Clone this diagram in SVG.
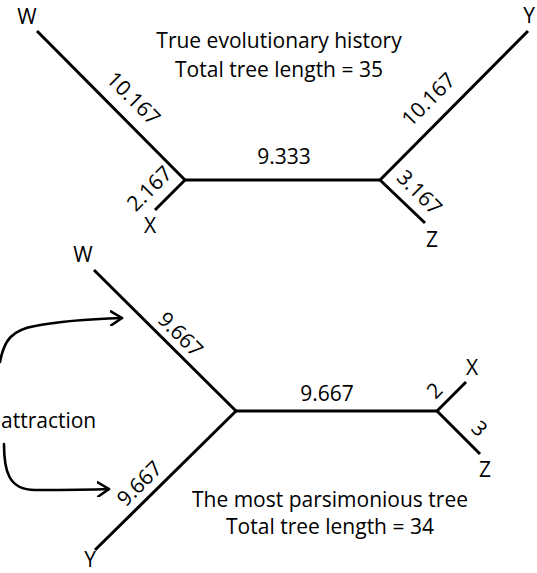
<svg xmlns="http://www.w3.org/2000/svg" width="537" height="573" viewBox="0 0 537 573">
<defs>
<style>
.t{font-family:"Open Sans","Liberation Sans",sans-serif;font-size:21px;fill:#000}
.c{text-anchor:middle}
.m{text-anchor:middle;dominant-baseline:central}
.br{stroke:#000;stroke-width:3;fill:none;stroke-linecap:butt}
.ar{stroke:#000;stroke-width:2.6;fill:none;stroke-linecap:round;stroke-linejoin:round}
</style>
<marker id="chev" viewBox="0 0 14 16" refX="12" refY="8" markerWidth="14" markerHeight="16" markerUnits="userSpaceOnUse" orient="auto">
<path d="M1 1 L12 8 L1 15" fill="none" stroke="#000" stroke-width="2.6" stroke-linecap="round" stroke-linejoin="round"/>
</marker>
</defs>
<rect width="537" height="573" fill="#fff"/>
<g id="connectors">
<line class="br" x1="37" y1="31" x2="185" y2="180"/>
<line class="br" x1="185" y1="180" x2="155" y2="210"/>
<line class="br" x1="185" y1="180" x2="380" y2="180"/>
<line class="br" x1="380" y1="180" x2="528" y2="31"/>
<line class="br" x1="380" y1="180" x2="425" y2="223"/>
<line class="br" x1="94" y1="270" x2="236" y2="411"/>
<line class="br" x1="236" y1="411" x2="95" y2="550"/>
<line class="br" x1="236" y1="411" x2="437" y2="411"/>
<line class="br" x1="437" y1="411" x2="466" y2="382"/>
<line class="br" x1="437" y1="411" x2="480" y2="454"/>
<path class="ar" d="M0 362 C4 340 12 330 35 326 C60 321 90 319 122 318" marker-end="url(#chev)"/>
<path class="ar" d="M4 444 C4 470 8 490 35 490 C60 490 85 490 109 489" marker-end="url(#chev)"/>
</g>
<g id="edge-labels" class="t">
<text class="m" transform="translate(134,98) rotate(45)">10.167</text>
<text class="m" transform="translate(149,188) rotate(-45)">2.167</text>
<text class="c" x="284" y="164">9.333</text>
<text class="m" transform="translate(428,99) rotate(-45)">10.167</text>
<text class="m" transform="translate(420,192) rotate(45)">3.167</text>
<text class="m" transform="translate(181,334) rotate(45)">9.667</text>
<text class="m" transform="translate(139,483) rotate(-45)">9.667</text>
<text class="c" x="327" y="401">9.667</text>
<text class="m" transform="translate(434,390) rotate(-45)">2</text>
<text class="m" transform="translate(480,428) rotate(45)">3</text>
</g>
<g id="top-W" class="t"><text class="c" x="27" y="24">W</text></g>
<g id="top-X" class="t"><text class="c" x="150" y="233">X</text></g>
<g id="top-Y" class="t"><text class="c" x="529" y="23">Y</text></g>
<g id="top-Z" class="t"><text class="c" x="432" y="247">Z</text></g>
<g id="top-title" class="t">
<text class="c" x="279" y="48">True evolutionary history</text>
<text class="c" x="279" y="77">Total tree length = 35</text>
</g>
<g id="bottom-W" class="t"><text class="c" x="83" y="262">W</text></g>
<g id="bottom-Y" class="t"><text class="c" x="90" y="567">Y</text></g>
<g id="bottom-X" class="t"><text class="c" x="472" y="375">X</text></g>
<g id="bottom-Z" class="t"><text class="c" x="485" y="477">Z</text></g>
<g id="bottom-title" class="t">
<text class="c" x="330" y="507">The most parsimonious tree</text>
<text class="c" x="330" y="534">Total tree length = 34</text>
</g>
<g id="attraction" class="t"><text x="1" y="428">attraction</text></g>
</svg>
